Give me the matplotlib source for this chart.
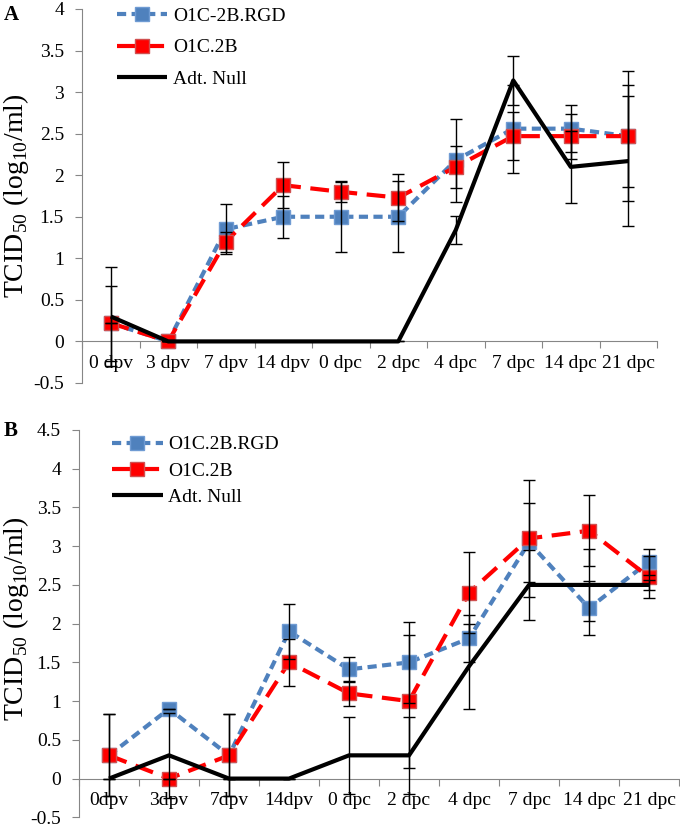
#!/usr/bin/env python3
"""
Two-panel virus titre plot (TCID50) for O1C-2B.RGD, O1C.2B and Adt. Null.
Writes out.png.
"""

import matplotlib
matplotlib.use("Agg")
import matplotlib.pyplot as plt

plt.rcParams["font.family"] = ["Liberation Serif", "DejaVu Serif"]
plt.rcParams["mathtext.fontset"] = "custom"
plt.rcParams["mathtext.rm"] = "Liberation Serif"
plt.rcParams["axes.unicode_minus"] = False

# ---- panel A data ----
labels_a = ["0 dpv", "3 dpv", "7 dpv", "14 dpv", "0 dpc", "2 dpc", "4 dpc", "7 dpc", "14 dpc", "21 dpc"]
names_a = ["O1C-2B.RGD", "O1C.2B", "Adt. Null"]
rgd_a = [0.22, 0.0, 1.35, 1.5, 1.5, 1.5, 2.18, 2.56, 2.56, 2.47]
rgd_a_err = [0.45, 0.0, 0.30, 0.25, 0.43, 0.43, 0.50, 0.53, 0.28, 0.78]
o1c_a = [0.22, 0.0, 1.2, 1.88, 1.8, 1.73, 2.1, 2.47, 2.47, 2.47]
o1c_a_err = [0.0, 0.0, 0.12, 0.28, 0.12, 0.28, 0.25, 0.29, 0.27, 0.61]
null_a = [0.3, 0.0, 0.0, 0.0, 0.0, 0.0, 1.34, 3.14, 2.1, 2.17]
null_a_err = [0.6, 0.0, 0.0, 0.0, 0.0, 0.0, 0.17, 0.30, 0.43, 0.78]
yticks_a = [-0.5, 0, 0.5, 1, 1.5, 2, 2.5, 3, 3.5, 4]

# ---- panel B data ----
labels_b = ["0dpv", "3dpv", "7dpv", "14dpv", "0 dpc", "2 dpc", "4 dpc", "7 dpc", "14 dpc", "21 dpc"]
names_b = ["O1C.2B.RGD", "O1C.2B", "Adt. Null"]
rgd_b = [0.3, 0.9, 0.3, 1.9, 1.41, 1.5, 1.81, 3.05, 2.2, 2.8]
rgd_b_err = [0.53, 0.0, 0.53, 0.35, 0.16, 0.52, 0.30, 0.51, 0.35, 0.17]
o1c_b = [0.3, 0.0, 0.3, 1.5, 1.1, 1.0, 2.4, 3.1, 3.2, 2.6]
o1c_b_err = [0.53, 0.0, 0.53, 0.30, 0.16, 0.86, 0.52, 0.76, 0.46, 0.27]
null_b = [0.0, 0.3, 0.0, 0.0, 0.3, 0.3, 1.45, 2.5, 2.5, 2.5]
null_b_err = [0.0, 0.55, 0.0, 0.0, 0.5, 0.5, 0.55, 0.45, 0.46, 0.07]
yticks_b = [-0.5, 0, 0.5, 1, 1.5, 2, 2.5, 3, 3.5, 4, 4.5]

BLUE = "#4f81bd"
RED = "#ff0000"
AXIS_GRAY = "#868686"
YLABEL = r"TCID$_{\mathrm{50}}$ (log$_{\mathrm{10}}$/ml)"


def fmt_tick(v: float) -> str:
    return f"{v:g}"


def draw_panel(ax, labels, names, series, errs, yticks, legend_anchor, legend_spacing):
    x = list(range(len(labels)))
    rgd, o1c, null = series
    rgd_err, o1c_err, null_err = errs

    ax.plot(x, rgd, color=BLUE, lw=3, dashes=(2.2, 1.3), marker="s", ms=10,
            mfc=BLUE, mec="#6f9bd3", mew=1, label=names[0], zorder=3)
    ax.plot(x, o1c, color=RED, lw=3, dashes=(4.5, 2.3), marker="s", ms=10,
            mfc=RED, mec="#d05050", mew=1, label=names[1], zorder=3)
    ax.plot(x, null, color="black", lw=3, solid_capstyle="butt", label=names[2], zorder=4)

    for vals, e in [(rgd, rgd_err), (o1c, o1c_err), (null, null_err)]:
        ax.errorbar(x, vals, yerr=e, fmt="none", ecolor="black", elinewidth=1,
                    capsize=4, capthick=1, zorder=5)

    ax.set_xlim(-0.5, len(labels) - 0.5)
    ax.set_ylim(yticks[0], yticks[-1])

    for side in ["top", "right"]:
        ax.spines[side].set_visible(False)
    ax.spines["bottom"].set_position(("data", 0))
    ax.spines["left"].set_color(AXIS_GRAY)
    ax.spines["bottom"].set_color(AXIS_GRAY)

    ax.set_yticks(yticks)
    ax.set_yticklabels([fmt_tick(v) for v in yticks], fontsize=14)
    ax.tick_params(axis="y", direction="out", length=5, color=AXIS_GRAY, pad=8)

    # category boundaries as major ticks, labels on centres
    ax.set_xticks([i - 0.5 for i in range(len(labels) + 1)])
    ax.set_xticklabels([])
    ax.set_xticks(x, minor=True)
    ax.set_xticklabels(labels, minor=True, fontsize=14)
    ax.tick_params(axis="x", which="major", direction="out", length=5, color=AXIS_GRAY)
    ax.tick_params(axis="x", which="minor", length=0, pad=10)

    ax.legend(loc="upper left", bbox_to_anchor=legend_anchor, frameon=False,
              fontsize=14, handlelength=2.6, handletextpad=0.3,
              labelspacing=legend_spacing, borderpad=0, borderaxespad=0)


def main() -> None:
    fig = plt.figure(figsize=(6.8, 8.25), dpi=100)

    ax_a = fig.add_axes([0.1206, 0.5358, 0.8456, 0.4533])
    draw_panel(ax_a, labels_a, names_a, (rgd_a, o1c_a, null_a),
               (rgd_a_err, o1c_a_err, null_a_err), yticks_a, (0.06, 1.005), 0.72)

    ax_b = fig.add_axes([0.1162, 0.0093, 0.8824, 0.4695])
    draw_panel(ax_b, labels_b, names_b, (rgd_b, o1c_b, null_b),
               (rgd_b_err, o1c_b_err, null_b_err), yticks_b, (0.055, 0.985), 0.45)

    # y labels placed in figure coordinates so they stay inside the canvas
    fig.text(0.023, 0.763, YLABEL, fontsize=20, rotation=90, ha="center", va="center")
    fig.text(0.023, 0.25, YLABEL, fontsize=20, rotation=90, ha="center", va="center")

    fig.text(0.005, 0.982, "A", fontsize=15, fontweight="bold", ha="left", va="center")
    fig.text(0.005, 0.478, "B", fontsize=15, fontweight="bold", ha="left", va="center")

    fig.savefig("out.png", dpi=100)
    plt.close(fig)


if __name__ == "__main__":
    main()
